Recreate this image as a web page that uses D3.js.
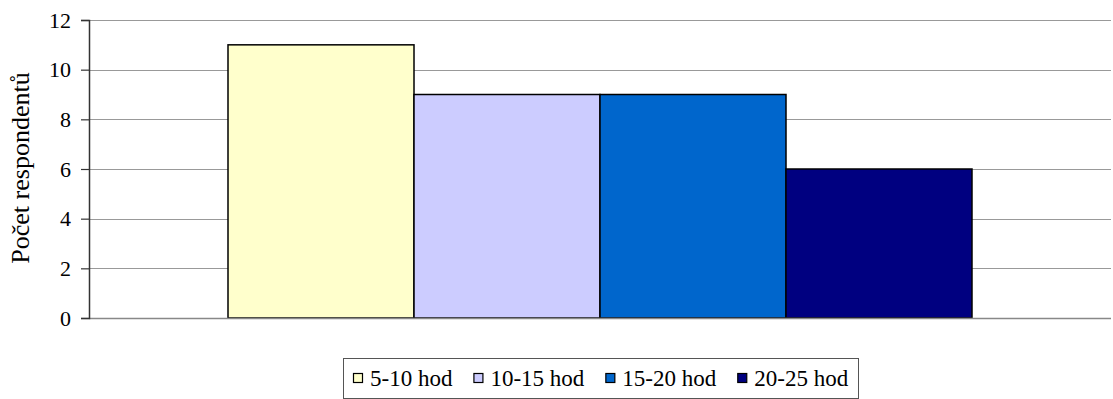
<!DOCTYPE html>
<html>
<head>
<meta charset="utf-8">
<script src="https://cdn.jsdelivr.net/npm/d3@7"></script>
</head>
<body style="margin:0;background:#fff">
<svg id="chart" width="1113" height="399"></svg>
<script>
// Respondents by weekly hours
const categories = ["5-10 hod", "10-15 hod", "15-20 hod", "20-25 hod"];
const values = [11, 9, 9, 6];
const colors = ["#FFFFCC", "#CCCCFF", "#0066CC", "#000080"];
const yTicks = [0, 2, 4, 6, 8, 10, 12];
const yTitle = "Počet respondentů";

const FONT = "Liberation Serif";
const svg = d3.select("#chart");
const margin = { left: 89, right: 2, top: 20, bottom: 81 };
const W = 1113, H = 399;
const plotW = W - margin.left - margin.right;
const plotH = H - margin.top - margin.bottom;

const g = svg.append("g").attr("transform", `translate(${margin.left},${margin.top})`);

const y = d3.scaleLinear().domain([0, 12]).range([plotH, 0]);

// single category group holding the four series, gap width 150%
const x = d3.scaleBand().domain(categories)
  .range([plotW / 2 - 372 * plotW / 1022, plotW / 2 + 372 * plotW / 1022])
  .paddingInner(0).paddingOuter(0);

// gridlines
g.append("g").selectAll("line").data(yTicks.filter(d => d > 0)).join("line")
  .attr("x1", 0).attr("x2", plotW)
  .attr("y1", d => Math.round(y(d)) + 0.5).attr("y2", d => Math.round(y(d)) + 0.5)
  .attr("stroke", "#999").attr("stroke-width", 1.2);

// bars
g.append("g").selectAll("rect").data(values).join("rect")
  .attr("x", (d, i) => x(categories[i]))
  .attr("y", d => y(d))
  .attr("width", x.bandwidth())
  .attr("height", d => plotH - y(d))
  .attr("fill", (d, i) => colors[i])
  .attr("stroke", "#000").attr("stroke-width", 1.5);

// baseline
g.append("line").attr("x1", 0).attr("x2", plotW)
  .attr("y1", plotH + 0.5).attr("y2", plotH + 0.5)
  .attr("stroke", "#888").attr("stroke-width", 1.5);

// y axis
const yAxis = d3.axisLeft(y).tickValues(yTicks).tickSize(8).tickPadding(10);
const ya = g.append("g").call(yAxis)
  .attr("font-family", FONT).attr("font-size", 22);
ya.select(".domain").attr("stroke", "#333").attr("stroke-width", 1.5);
ya.selectAll(".tick line").attr("stroke", "#333").attr("stroke-width", 1.2);
ya.selectAll(".tick text").attr("fill", "#000");

// y axis title
svg.append("text")
  .attr("transform", `translate(29,${margin.top + plotH / 2 - 1}) rotate(-90)`)
  .attr("text-anchor", "middle")
  .attr("font-family", FONT).attr("font-size", 26)
  .text(yTitle);

// legend
const lg = svg.append("g");
lg.append("rect").attr("x", 343.5).attr("y", 358.5)
  .attr("width", 515).attr("height", 40)
  .attr("fill", "#fff").attr("stroke", "#555").attr("stroke-width", 1);
const items = lg.selectAll("g.item").data(categories).join("g").attr("class", "item");
let cx = 353;
items.each(function (d, i) {
  const it = d3.select(this);
  it.append("rect").attr("x", cx + 0.5).attr("y", 373.5).attr("width", 9).attr("height", 9)
    .attr("fill", colors[i]).attr("stroke", "#000").attr("stroke-width", 1.2);
  const t = it.append("text").attr("x", cx + 17).attr("y", 386)
    .attr("font-family", FONT).attr("font-size", 23).text(d);
  cx += 17 + t.node().getComputedTextLength() + 21;
});
</script>
</body>
</html>
